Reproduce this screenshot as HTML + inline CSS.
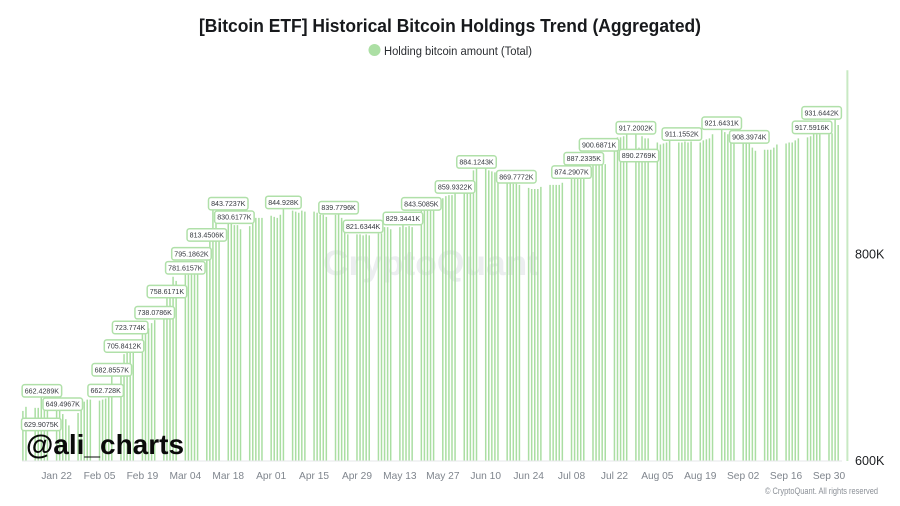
<!DOCTYPE html>
<html lang="en">
<head>
<meta charset="utf-8">
<title>Bitcoin ETF Historical Holdings</title>
<style>
html,body{margin:0;padding:0;background:#fff;width:900px;height:506px;overflow:hidden}
svg{display:block;font-family:"Liberation Sans",sans-serif}
</style>
</head>
<body>
<svg id="chart" width="900" height="506" viewBox="0 0 900 506" xmlns="http://www.w3.org/2000/svg">
  <text x="450" y="32" text-anchor="middle" font-size="18.5" font-weight="700" fill="#17191c" textLength="502" lengthAdjust="spacingAndGlyphs">[Bitcoin ETF] Historical Bitcoin Holdings Trend (Aggregated)</text>
  <circle cx="374.5" cy="50" r="6" fill="#acdfa4"></circle>
  <text x="384" y="55" font-size="12.2" fill="#2a2d31" textLength="148" lengthAdjust="spacingAndGlyphs">Holding bitcoin amount (Total)</text>
  <text x="431" y="275" text-anchor="middle" font-size="35" font-weight="700" fill="#eceef0" textLength="216" lengthAdjust="spacingAndGlyphs">CryptoQuant</text>
  <g id="bars"></g>
  <line x1="22" y1="461" x2="842" y2="461" stroke="#e6e7e9" stroke-width="1"></line>
  <g id="x-axis"></g>
  <g id="y-axis"></g>
  <g id="callouts"></g>
  <text x="26" y="454" font-size="28" font-weight="700" fill="#0a0a0a">@ali_charts</text>
  <text x="878" y="494" text-anchor="end" font-size="8.8" fill="#8b9097" textLength="113" lengthAdjust="spacingAndGlyphs">© CryptoQuant. All rights reserved</text>
</svg>
<script>
// Days are counted from Monday, 8 Jan 2024. Each row is one trading week, Mon–Fri, in thousands of BTC.
const weekValues = [
  [null,null,null,648,652],
  [651,651,662.4,655,654],
  [649.5,649,645,640,634],
  [646,656,657,659,659],
  [658,659,660,662.7,682.9],
  [683,703,705,706,705.8],
  [723,726,728,733,736],
  [738,758,758.6,778,774],
  [780,780,781.6,782,781],
  [804,812,843.7,830.6,812],
  [830,830,828,828,824],
  [827,835,835,835,835],
  [837,836,835,838,844.9],
  [842,841,840,842,841],
  [841,840,838,838,836],
  [838,839.8,835,821.6,819],
  [819,819,818,819,818],
  [820,820,826,826,824],
  [826,829.3,826,827,826],
  [843,843,843.5,843,843],
  [854,856,857,857,859],
  [859,859,859.9,881,883],
  [884.1,881,880,879,869.8],
  [869,869,868,868,867],
  [864,863,863,863,865],
  [867,867,867,867,869],
  [874.3,874,875,875,876],
  [886,887.2,887,887,887],
  [905,913,913,914,917.2],
  [917,903,914,912,912],
  [908,906,907,908,911.2],
  [908,908,909,908,909],
  [908,910,911,912,916],
  [921.6,918,916,913,913],
  [908.4,908,907,903,900],
  [901,901,901,903,906],
  [907,908,908,910,912],
  [913,914,917.6,916,916],
  [916,917,931.6,925,null]
];
const latestDays = [272];
const latestValues = [978];
const tickDays = [14,28,42,56,70,84,98,112,126,140,154,168,182,196,210,224,238,252,266];
const tickLabels = ["Jan 22","Feb 05","Feb 19","Mar 04","Mar 18","Apr 01","Apr 15","Apr 29","May 13","May 27","Jun 10","Jun 24","Jul 08","Jul 22","Aug 05","Aug 19","Sep 02","Sep 16","Sep 30"];
const yTickValues = [600,800];
const yTickLabels = ["600K","800K"];
const calloutLabels = ["662.4289K","649.4967K","629.9075K","662.728K","682.8557K","705.8412K","723.774K","738.0786K","758.6171K","781.6157K","795.1862K","813.4506K","843.7237K","830.6177K","844.928K","839.7796K","821.6344K","829.3441K","843.5085K","859.9322K","884.1243K","869.7772K","874.2907K","887.2335K","900.6871K","917.2002K","890.2769K","911.1552K","921.6431K","908.3974K","917.5916K","931.6442K"];
const calloutDays = [9.2,16,9,30,32,36,38,46,50,56,58,63,70,72,88,106,114,127,133,144,151,164,182,186,191,203,204,218,231,240,260.5,263.6];

const NS = "http://www.w3.org/2000/svg";
function xScale(day){ return 13.7 + day * 3.065; }
function yScale(v){ return 460.5 - (v - 600) * 1.0325; }
function make(tag, attrs, parent){
  const el = document.createElementNS(NS, tag);
  for (const k in attrs) el.setAttribute(k, attrs[k]);
  parent.appendChild(el);
  return el;
}
const barsG = document.getElementById("bars");
weekValues.forEach(function(week, w){
  week.forEach(function(v, d){
    if (v === null) return;
    const day = w * 7 + d;
    const bar = make("line", {x1:xScale(day), x2:xScale(day), y1:yScale(v), y2:461, stroke:"#aadea2", "stroke-width":1.5}, barsG);
    
    
  });
});
latestDays.forEach(function(day, i){
  const bar = make("line", {x1:xScale(day), x2:xScale(day), y1:yScale(latestValues[i]), y2:461, stroke:"#c8e9c3", "stroke-width":2}, barsG);
  
  
});
const xG = document.getElementById("x-axis");
tickDays.forEach(function(day, i){
  const t = make("text", {x:xScale(day), y:479, "text-anchor":"middle", "font-size":10.2, fill:"#7f858d"}, xG);
  t.textContent = tickLabels[i];
  
  
});
const yG = document.getElementById("y-axis");
yTickValues.forEach(function(v, i){
  const t = make("text", {x:855, y:yScale(v) + 4.5, "font-size":12.6, fill:"#1c1e21"}, yG);
  t.textContent = yTickLabels[i];
  
  
});
const cG = document.getElementById("callouts");
calloutLabels.forEach(function(label, i){
  const cx = xScale(calloutDays[i]);
  const bottom = yScale(parseFloat(label)) + 1;
  const w = label.length === 9 ? 39.5 : 35.5;
  const box = make("rect", {x:cx - w / 2, y:bottom - 12.4, width:w, height:12.4, rx:2.5, fill:"#fff", stroke:"#b0e0a9", "stroke-width":1.5}, cG);
  
  
  const t = make("text", {x:cx, y:bottom - 3.7, "text-anchor":"middle", "font-size":7.1, fill:"#34383e"}, cG);
  t.textContent = label;
  
  
});
</script>
</body>
</html>
